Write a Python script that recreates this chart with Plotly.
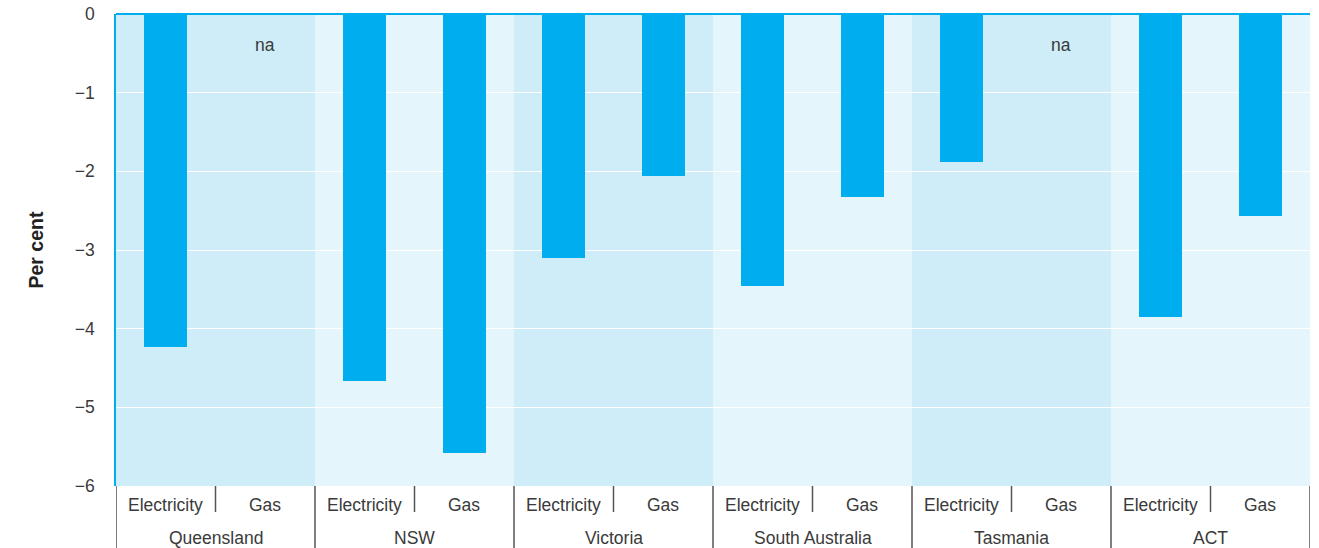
import plotly.graph_objects as go

states = ["Queensland", "NSW", "Victoria", "South Australia", "Tasmania", "ACT"]
fuels = ["Electricity", "Gas"]
electricity = [-4.23, -4.66, -3.10, -3.46, -1.88, -3.85]
gas = [None, -5.58, -2.06, -2.33, None, -2.57]
y_ticks = [0, -1, -2, -3, -4, -5, -6]

BAR = "#00aeef"
SHADE_DARK = "#cfedf8"
SHADE_LIGHT = "#e4f5fc"
TXT = "#3a3a3a"
FONT = "Liberation Sans"

xs, ys, sub_labels = [], [], []
for gi, st in enumerate(states):
    for fi, fu in enumerate(fuels):
        idx = gi * len(fuels) + fi
        v = electricity[gi] if fu == "Electricity" else gas[gi]
        xs.append(idx)
        ys.append(v)
        sub_labels.append(fu)

fig = go.Figure()
fig.add_trace(go.Bar(x=xs, y=ys, marker=dict(color=BAR, line=dict(width=0)),
                     width=0.43, hoverinfo="skip", showlegend=False))

M_T, M_B, M_L, M_R = 14, 62, 116, 9
plot_h = 548 - M_T - M_B

shapes = []
annotations = []
n = len(xs)
for gi, st in enumerate(states):
    x0 = gi * 2 - 0.5
    x1 = gi * 2 + 1.5
    shapes.append(dict(type="rect", xref="x", yref="y", x0=x0, x1=x1, y0=-6, y1=0,
                       fillcolor=SHADE_DARK if gi % 2 == 0 else SHADE_LIGHT,
                       line=dict(width=0), layer="below"))
    annotations.append(dict(x=gi * 2 + 0.5, xref="x", y=-52 / plot_h, yref="paper",
                            text=st, showarrow=False, yanchor="middle",
                            font=dict(family=FONT, size=17.5, color=TXT)))
    shapes.append(dict(type="line", xref="x", yref="paper", x0=gi * 2 + 0.5, x1=gi * 2 + 0.5,
                       y0=0, y1=-26 / plot_h, line=dict(color="#555555", width=1.5)))

for b in range(len(states) + 1):
    xb = b * 2 - 0.5
    shapes.append(dict(type="line", xref="x", yref="paper", x0=xb, x1=xb,
                       y0=0, y1=-70 / plot_h, line=dict(color="#555555", width=1.5)))

for i, lab in enumerate(sub_labels):
    annotations.append(dict(x=xs[i], xref="x", y=-19 / plot_h, yref="paper",
                            text=lab, showarrow=False, yanchor="middle",
                            font=dict(family=FONT, size=17.5, color=TXT)))
    if ys[i] is None:
        annotations.append(dict(x=xs[i], xref="x", y=-0.4, yref="y", text="na",
                                showarrow=False, yanchor="middle",
                                font=dict(family=FONT, size=17.5, color=TXT)))

fig.update_layout(
    width=1319, height=548,
    margin=dict(l=M_L, r=M_R, t=M_T, b=M_B),
    paper_bgcolor="white", plot_bgcolor="white",
    shapes=shapes, annotations=annotations,
    bargap=0,
    xaxis=dict(range=[-0.5, n - 0.5], showticklabels=False, showgrid=False,
               zeroline=False, showline=False, ticks="", fixedrange=True),
    yaxis=dict(range=[-6, 0], tickvals=y_ticks, ticktext=[("\u2212" + str(abs(t))) if t < 0 else str(t) for t in y_ticks],
               showgrid=True, gridcolor="white", gridwidth=1.2,
               zeroline=True, zerolinecolor=BAR, zerolinewidth=2,
               showline=True, linecolor=BAR, linewidth=1.5,
               ticks="", ticklabelstandoff=16, ticklabeloverflow="allow",
               tickfont=dict(family=FONT, size=17.5, color=TXT),
               title=dict(text="<b>Per cent</b>", standoff=26,
                          font=dict(family=FONT, size=19.5, color="#222222")),
               automargin=False),
)

fig.write_html("out.html", config={"displayModeBar": False},
               post_script="document.body.style.margin='0';")
